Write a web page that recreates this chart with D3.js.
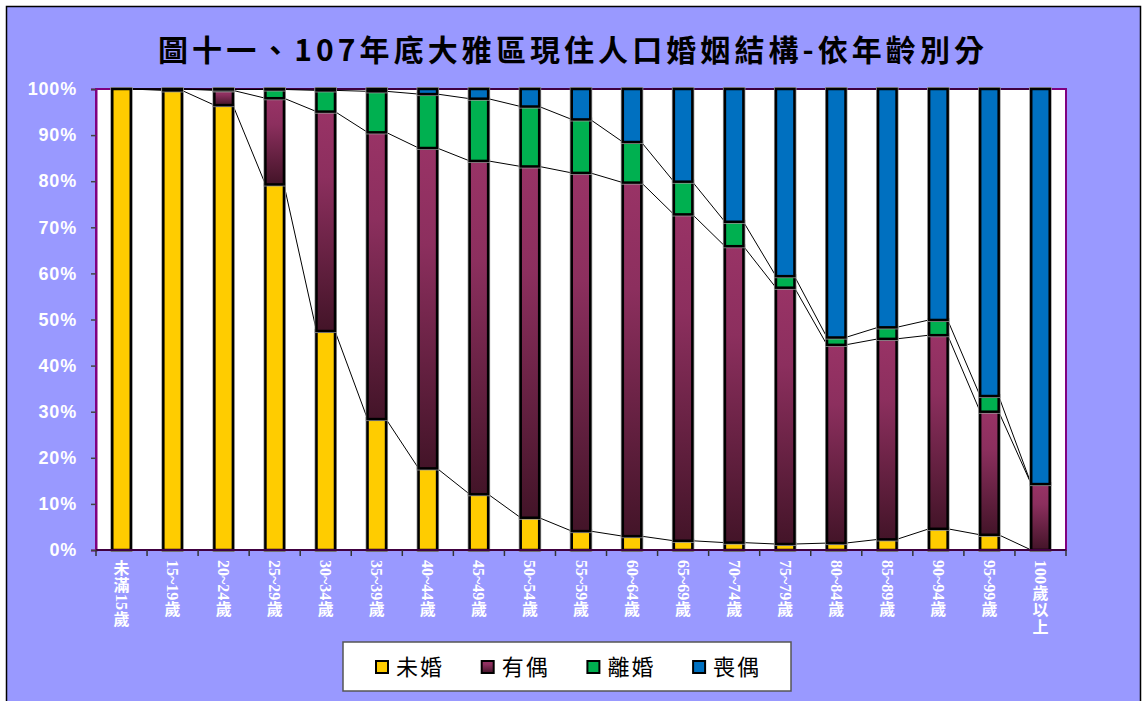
<!DOCTYPE html>
<html>
<head>
<meta charset="utf-8">
<script src="https://cdn.jsdelivr.net/npm/d3@7"></script>
<style>
  body { margin: 0; background: #ffffff; }
</style>
</head>
<body>
<div id="chart"></div>
<script>
// age groups along the x axis
let ageGroups = ["未滿15歲", "15~19歲", "20~24歲", "25~29歲", "30~34歲", "35~39歲", "40~44歲",
    "45~49歲", "50~54歲", "55~59歲", "60~64歲", "65~69歲", "70~74歲", "75~79歲", "80~84歲",
    "85~89歲", "90~94歲", "95~99歲", "100歲以上"];

// percentage of each marital status per age group
let unmarried = [100, 99.7, 96.5, 79.3, 47.5, 28.4, 17.7, 12.1, 7.0, 4.1, 3.0, 2.0, 1.6, 1.3, 1.5, 2.3, 4.6, 3.3, 0];
let married   = [0, 0.3, 3.2, 18.7, 47.6, 62.2, 69.5, 72.3, 76.2, 77.7, 76.7, 70.8, 64.3, 55.6, 43.0, 43.5, 42.0, 26.7, 14.3];
let divorced  = [0, 0, 0.2, 1.9, 4.6, 8.9, 11.7, 13.5, 13.0, 11.6, 8.8, 7.1, 5.3, 2.5, 1.6, 2.5, 3.3, 3.4, 0];
let widowed   = [0, 0, 0.1, 0.1, 0.3, 0.5, 1.1, 2.1, 3.8, 6.6, 11.5, 20.1, 28.8, 40.6, 53.9, 51.7, 50.1, 66.6, 85.7];

let seriesNames = ["未婚", "有偶", "離婚", "喪偶"];
let yTicks = [0, 10, 20, 30, 40, 50, 60, 70, 80, 90, 100];

let width = 1144;
let height = 701;
let plot = {left: 96, right: 1066, top: 89, bottom: 550};

let svg = d3.select("#chart")
    .append("svg")
    .attr("width", width)
    .attr("height", height);

// gradient used by the 有偶 segments
let defs = svg.append("defs");
let grad = defs.append("linearGradient")
    .attr("id", "marriedGrad")
    .attr("x1", 0).attr("y1", 0).attr("x2", 0).attr("y2", 1);
grad.append("stop").attr("offset", "0%").attr("stop-color", "#993366");
grad.append("stop").attr("offset", "30%").attr("stop-color", "#8c2f5e");
grad.append("stop").attr("offset", "100%").attr("stop-color", "#431428");

let colors = ["#ffcc00", "url(#marriedGrad)", "#00b050", "#0070c0"];

// outer frame + background
svg.append("rect")
    .attr("x", 6.5).attr("y", 6.5)
    .attr("width", 1134).attr("height", 710)
    .attr("fill", "#9999ff")
    .attr("stroke", "#000")
    .attr("stroke-width", 1.5);

// title
svg.append("text")
    .attr("x", 571)
    .attr("y", 61)
    .attr("text-anchor", "middle")
    .attr("font-family", "'Noto Sans CJK TC', 'Liberation Serif'")
    .attr("font-weight", "bold")
    .attr("font-size", 30)
    .attr("textLength", 826)
    .attr("lengthAdjust", "spacing")
    .attr("fill", "#000")
    .text("圖十一、107年底大雅區現住人口婚姻結構-依年齡別分");

let x = d3.scaleBand()
    .domain(ageGroups)
    .range([plot.left, plot.right]);

let y = d3.scaleLinear()
    .domain([0, 100])
    .range([plot.bottom, plot.top]);

// plot area
svg.append("rect")
    .attr("x", plot.left).attr("y", plot.top)
    .attr("width", plot.right - plot.left)
    .attr("height", plot.bottom - plot.top)
    .attr("fill", "#fff")
    .attr("stroke", "#800080")
    .attr("stroke-width", 2);

// y axis
let yAxis = svg.append("g")
    .attr("transform", "translate(" + plot.left + ",0)")
    .call(d3.axisLeft(y).tickValues(yTicks).tickFormat(function (d) { return d + "%"; }).tickSize(5).tickPadding(14));
yAxis.select(".domain").attr("stroke", "#800080").attr("stroke-width", 2);
yAxis.selectAll(".tick line").attr("stroke", "#444").attr("stroke-width", 1.5);
yAxis.selectAll(".tick text")
    .attr("fill", "#fff")
    .attr("font-family", "'Liberation Sans', Arial")
    .attr("font-weight", "bold")
    .attr("font-size", 18)
    .attr("letter-spacing", 0.8);

// stack the series
let table = ageGroups.map(function (g, i) {
    return {group: g, "未婚": unmarried[i], "有偶": married[i], "離婚": divorced[i], "喪偶": widowed[i]};
});
let stacked = d3.stack().keys(seriesNames)(table);

let barW = 18.5;

// series lines (thin black lines joining the tops of each segment)
stacked.forEach(function (layer) {
    for (let i = 0; i < layer.length - 1; i++) {
        svg.append("line")
            .attr("x1", x(ageGroups[i]) + x.bandwidth() / 2 + barW / 2)
            .attr("y1", y(layer[i][1]))
            .attr("x2", x(ageGroups[i + 1]) + x.bandwidth() / 2 - barW / 2)
            .attr("y2", y(layer[i + 1][1]))
            .attr("stroke", "#000")
            .attr("stroke-width", 1);
    }
});

// bars (a soft grey halo under a black outline)
stacked.forEach(function (layer, k) {
    let segs = layer.filter(function (d) { return d[1] - d[0] > 0; });
    let g = svg.append("g");
    g.selectAll(".halo")
        .data(segs)
        .enter()
        .append("rect")
        .attr("x", function (d) { return x(d.data.group) + x.bandwidth() / 2 - barW / 2; })
        .attr("y", function (d) { return y(d[1]); })
        .attr("width", barW)
        .attr("height", function (d) { return y(d[0]) - y(d[1]); })
        .attr("fill", "none")
        .attr("stroke", "#999")
        .attr("stroke-width", 4);
    g.selectAll(".seg")
        .data(segs)
        .enter()
        .append("rect")
        .attr("x", function (d) { return x(d.data.group) + x.bandwidth() / 2 - barW / 2; })
        .attr("y", function (d) { return y(d[1]); })
        .attr("width", barW)
        .attr("height", function (d) { return y(d[0]) - y(d[1]); })
        .attr("fill", colors[k])
        .attr("stroke", "#000")
        .attr("stroke-width", 2.5);
});

// x axis along the bottom
let xAxis = svg.append("g")
    .attr("transform", "translate(0," + plot.bottom + ")");
xAxis.append("line")
    .attr("x1", plot.left).attr("x2", plot.right)
    .attr("stroke", "#400040").attr("stroke-width", 2);
xAxis.selectAll(".tk")
    .data(ageGroups)
    .enter()
    .append("line")
    .attr("x1", function (d) { return x(d); })
    .attr("x2", function (d) { return x(d); })
    .attr("y1", 0).attr("y2", 6)
    .attr("stroke", "#333").attr("stroke-width", 1.5);
xAxis.append("line")
    .attr("x1", plot.right).attr("x2", plot.right)
    .attr("y1", 0).attr("y2", 6)
    .attr("stroke", "#333").attr("stroke-width", 1.5);

// vertical category labels: one text per label, CJK glyphs upright,
// ascii glyphs turned 90 degrees (per-glyph x / y / rotate lists)
let labelFont = "'Liberation Serif', 'Noto Sans CJK TC'";
let labelSize = 16;
let measure = svg.append("text")
    .attr("font-family", labelFont)
    .attr("font-weight", "bold")
    .attr("font-size", labelSize);

function glyphWidth(c) {
    measure.text(c);
    return measure.node().getComputedTextLength();
}

let labels = svg.append("g");
ageGroups.forEach(function (label) {
    let cx = x(label) + x.bandwidth() / 2;
    let cy = 560;
    let xs = [], ys = [], rs = [];
    let prevAscii = false;
    Array.from(label).forEach(function (c) {
        let ascii = /[\x00-\x7F]/.test(c);
        if (ascii) {
            xs.push(cx - 5.5); ys.push(cy); rs.push(90);
            cy += glyphWidth(c);
        } else {
            if (prevAscii) { cy += 1; }
            xs.push(cx - labelSize / 2); ys.push(cy + labelSize * 0.86); rs.push(0);
            cy += labelSize + 1;
        }
        prevAscii = ascii;
    });
    labels.append("text")
        .attr("x", xs.join(" "))
        .attr("y", ys.join(" "))
        .attr("rotate", rs.join(" "))
        .attr("font-family", labelFont)
        .attr("font-weight", "bold")
        .attr("font-size", labelSize)
        .attr("fill", "#fff")
        .text(label);
});
measure.remove();

// legend
let legend = svg.append("g");
legend.append("rect")
    .attr("x", 343).attr("y", 642)
    .attr("width", 448).attr("height", 49)
    .attr("fill", "#fff")
    .attr("stroke", "#555")
    .attr("stroke-width", 1.5);

let item = legend.selectAll(".item")
    .data(seriesNames)
    .enter()
    .append("g")
    .attr("transform", function (d, i) { return "translate(" + (376 + i * 105.7) + ",661)"; });
item.append("rect")
    .attr("width", 12).attr("height", 12)
    .attr("fill", function (d, i) { return colors[i]; })
    .attr("stroke", "#000")
    .attr("stroke-width", 2);
item.append("text")
    .attr("x", 20)
    .attr("y", 14)
    .attr("font-family", "'Noto Sans CJK TC'")
    .attr("font-size", 22)
    .attr("letter-spacing", 2)
    .attr("fill", "#000")
    .text(function (d) { return d; });
</script>
</body>
</html>
